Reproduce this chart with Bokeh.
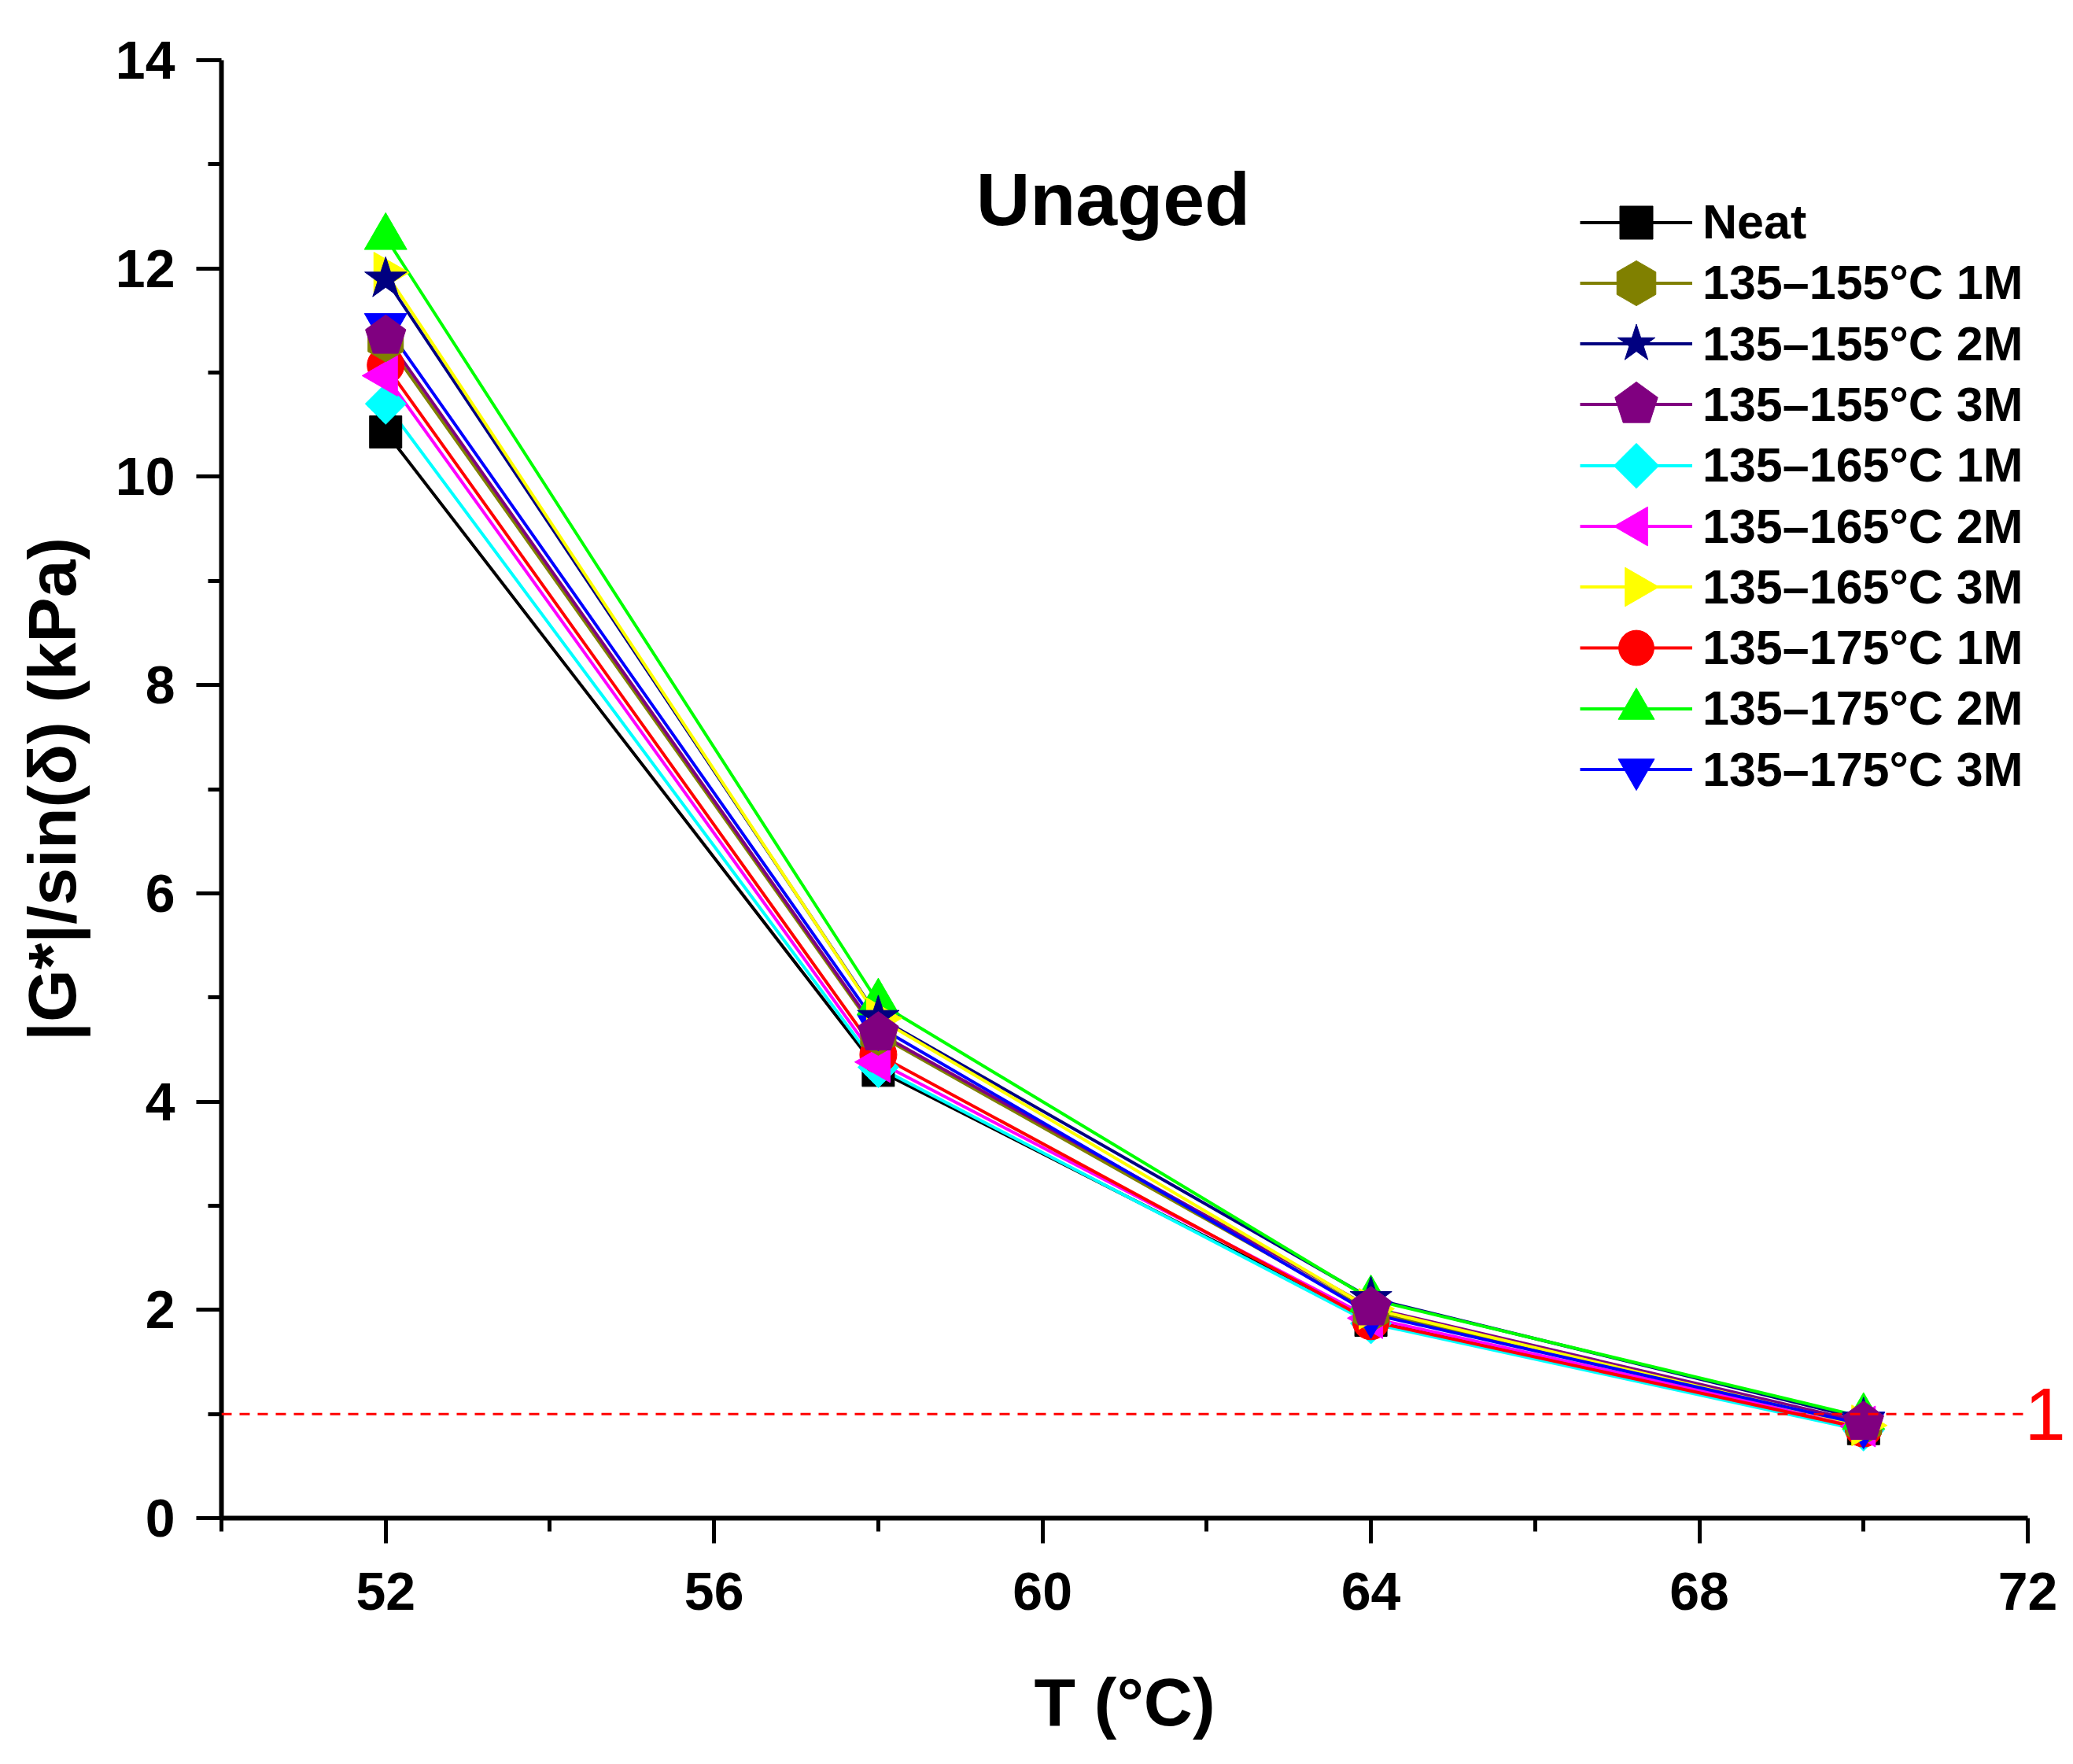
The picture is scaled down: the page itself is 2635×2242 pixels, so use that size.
import numpy as np
from bokeh.plotting import figure
from bokeh.models import (ColumnDataSource, Legend, LegendItem, Span, Label,
                          FixedTicker, LinearAxis)
from bokeh.models import glyphs as _glyphs
from bokeh.embed import file_html
from bokeh.resources import INLINE

# ---------------- data ----------------
T = [52, 58, 64, 70]
series_names = ["Neat", "135\u2013155\u00b0C 1M", "135\u2013155\u00b0C 2M", "135\u2013155\u00b0C 3M",
                "135\u2013165\u00b0C 1M", "135\u2013165\u00b0C 2M", "135\u2013165\u00b0C 3M",
                "135\u2013175\u00b0C 1M", "135\u2013175\u00b0C 2M", "135\u2013175\u00b0C 3M"]
neat    = [10.43, 4.30, 1.90, 0.86]
m155_1  = [11.30, 4.64, 1.98, 0.90]
m155_2  = [11.90, 4.81, 2.11, 0.95]
m155_3  = [11.35, 4.66, 2.02, 0.92]
m165_1  = [10.70, 4.33, 1.87, 0.84]
m165_2  = [10.97, 4.38, 1.92, 0.88]
m165_3  = [11.96, 4.80, 2.01, 0.89]
m175_1  = [11.07, 4.45, 1.89, 0.86]
m175_2  = [12.30, 4.95, 2.10, 0.97]
m175_3  = [11.45, 4.72, 1.96, 0.90]
values = [neat, m155_1, m155_2, m155_3, m165_1, m165_2, m165_3, m175_1, m175_2, m175_3]
colors = ["#000000", "#808000", "#000080", "#800080", "#00FFFF",
          "#FF00FF", "#FFFF00", "#FF0000", "#00FF00", "#0000FF"]
x_ticks = [52, 56, 60, 64, 68, 72]
x_minor = [50, 54, 58, 62, 66, 70]
y_ticks = [0, 2, 4, 6, 8, 10, 12, 14]
y_minor = [1, 3, 5, 7, 9, 11, 13]
threshold = 1
title_text = "Unaged"

# marker styles: (kind, marker-or-n, size/radius, angle, legend glyph height)
marker_styles = [("scatter", "square", 41, 0, 105),
                 ("ngon", 6, 26, 0, 143),
                 ("scatter", "star", 56, 0, 125),
                 ("ngon", 5, 27, 0, 143),
                 ("ngon", 4, 26, 0, 143),
                 ("ngon", 3, 30, np.pi / 2, 143),
                 ("ngon", 3, 30, -np.pi / 2, 143),
                 ("scatter", "circle", 47, 0, 112),
                 ("scatter", "triangle", 54, 0, 115),
                 ("scatter", "inverted_triangle", 54, 0, 115)]
fallback = {6: ("hex", 50, np.pi / 2), 5: ("hex", 50, 0), 4: ("square", 37, np.pi / 4)}
draw_order = [0, 4, 7, 5, 1, 9, 8, 6, 2, 3]

FONT = "Liberation Sans"
FW, FH = 2296, 1853
p = figure(frame_width=FW, frame_height=FH,
           x_range=(50, 72), y_range=(0, 14),
           output_backend="svg", toolbar_location=None,
           min_border_left=281, min_border_right=42, min_border_top=76, min_border_bottom=297)
p.outline_line_color = None
p.xgrid.visible = False
p.ygrid.visible = False
p.background_fill_color = "white"

p.xaxis.ticker = FixedTicker(ticks=x_ticks, minor_ticks=x_minor)
p.yaxis.ticker = FixedTicker(ticks=y_ticks, minor_ticks=y_minor)
for ax in (p.xaxis[0], p.yaxis[0]):
    ax.axis_line_width = 6
    ax.major_tick_line_width = 5
    ax.minor_tick_line_width = 5
    ax.major_tick_out = 32
    ax.major_tick_in = 0
    ax.minor_tick_out = 17
    ax.minor_tick_in = 0
    ax.major_label_text_font = FONT
    ax.major_label_text_font_style = "bold"
    ax.major_label_text_font_size = "68px"
    ax.major_label_text_color = "black"
    ax.axis_label_text_font = FONT
    ax.axis_label_text_font_style = "bold"
    ax.axis_label_text_font_size = "86px"
    ax.axis_label_text_color = "black"
p.xaxis.axis_label = "T (\u00b0C)"
p.yaxis.axis_label = "|G*|/sin(\u03b4) (kPa)"
p.xaxis.major_label_standoff = 37
p.yaxis.major_label_standoff = 27
p.xaxis.axis_label_standoff = 66
p.yaxis.axis_label_standoff = 30

# threshold line and its value label (on a bare right axis)
p.add_layout(Span(location=threshold, dimension="width", line_color="#FF0000",
                  line_width=3, line_dash="13 10"))
raxis = LinearAxis(ticker=FixedTicker(ticks=[threshold], minor_ticks=[]),
                   axis_line_color=None, major_tick_line_color=None, minor_tick_line_color=None,
                   major_tick_out=0, major_tick_in=0, major_label_standoff=-4,
                   major_label_text_color="#FF0000", major_label_text_font=FONT,
                   major_label_text_font_size="94px")
p.add_layout(raxis, "right")

sources = [ColumnDataSource(dict(x=T, y=v)) for v in values]
line_rs = []
for i, src in enumerate(sources):
    line_rs.append(p.line("x", "y", source=src, line_color=colors[i], line_width=4))

has_ngon = hasattr(_glyphs, "Ngon")
marker_rs = [None] * len(values)
for i in draw_order:
    kind, m, s, a, _gh = marker_styles[i]
    if kind == "ngon" and has_ngon:
        g = _glyphs.Ngon(x="x", y="y", radius=s, radius_units="screen", n=m, angle=a,
                         fill_color=colors[i], line_color=colors[i], line_width=1)
        r = p.add_glyph(sources[i], g)
    else:
        if kind == "ngon":
            m, s, a = fallback.get(m, ("triangle", 54, a))
        r = p.scatter("x", "y", source=sources[i], marker=m, size=s, angle=a,
                      fill_color=colors[i], line_color=colors[i], line_width=1)
    marker_rs[i] = r

# legend: one single-row legend per entry, stacked at a fixed pitch
pitch = 77.3
first_center = 206.0
for i in range(len(values)):
    GH = marker_styles[i][4]
    c = first_center + pitch * i
    leg = Legend(items=[LegendItem(label=series_names[i], renderers=[line_rs[i], marker_rs[i]])],
                 location=(1727, FH - c - GH / 2), orientation="vertical",
                 glyph_width=143, glyph_height=GH, spacing=0,
                 label_text_font=FONT, label_text_font_style="bold",
                 label_text_font_size="61px", label_text_color="black",
                 label_standoff=13, padding=0, margin=0,
                 border_line_alpha=0, background_fill_alpha=0)
    p.add_layout(leg)

p.add_layout(Label(x=60.86, y=12.67, text=title_text, text_font=FONT, text_font_style="bold",
                   text_font_size="95px", text_align="center", text_baseline="middle",
                   text_color="black"))

open("out.html", "w").write(file_html(p, INLINE))
